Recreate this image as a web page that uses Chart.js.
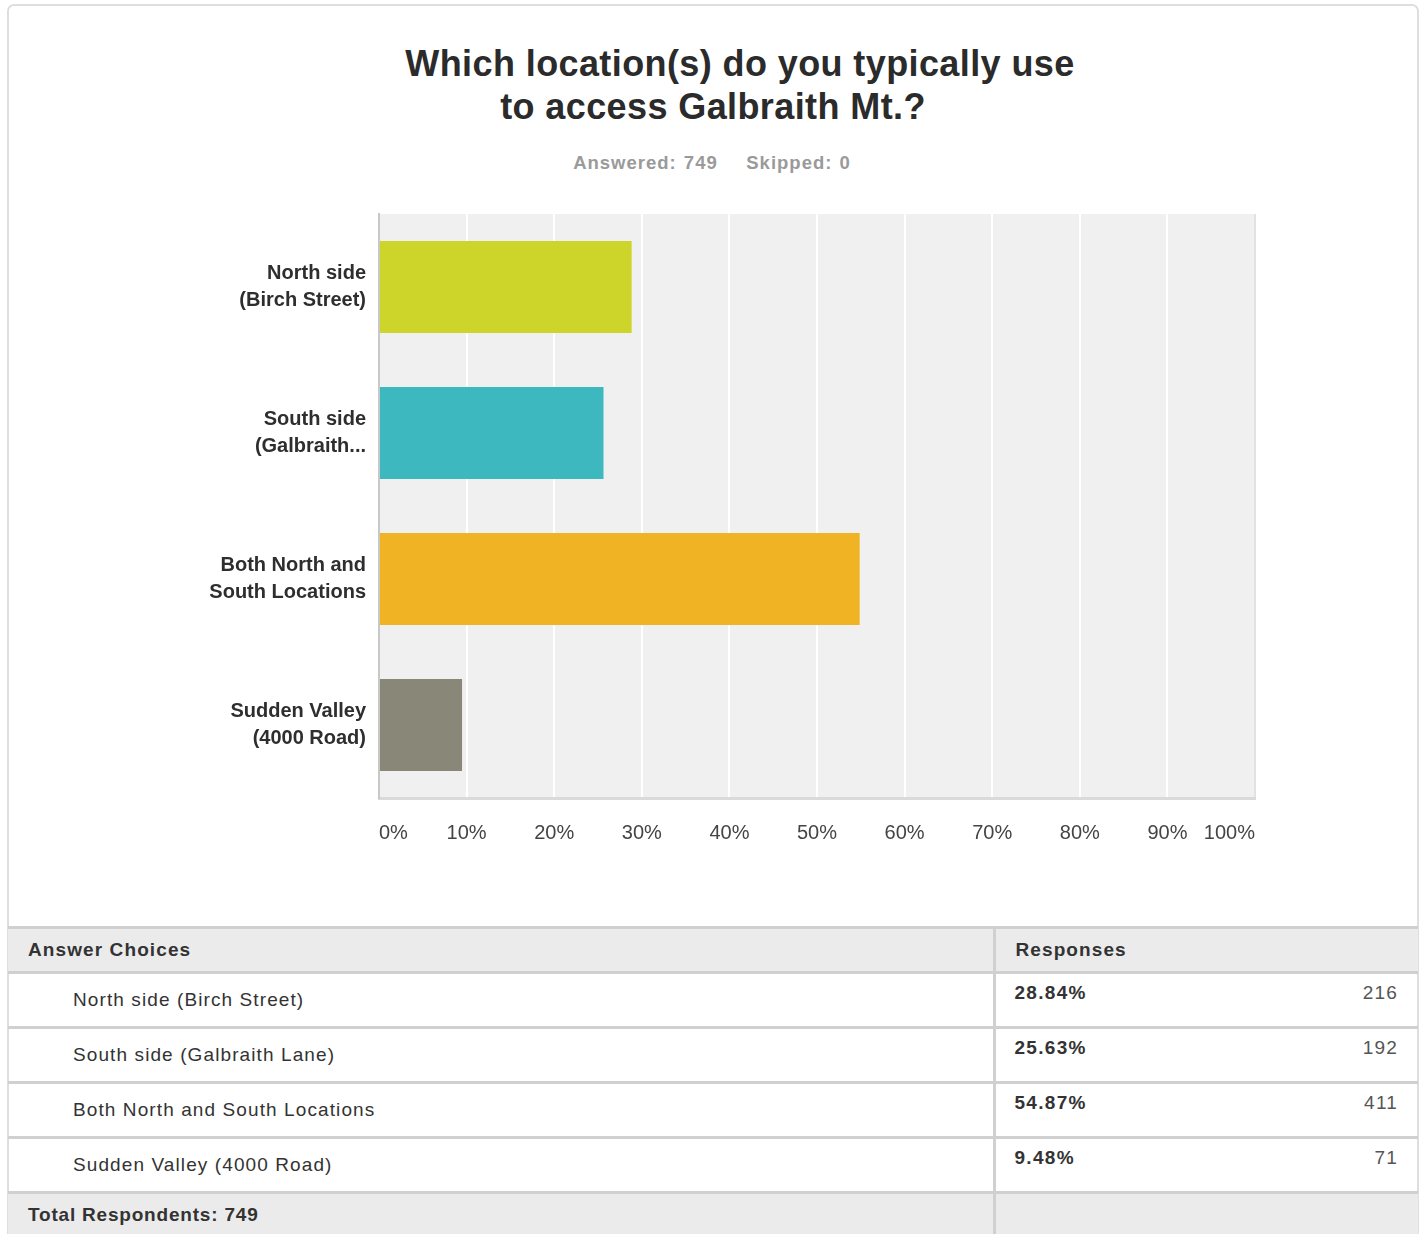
<!DOCTYPE html>
<html>
<head>
<meta charset="utf-8">
<script src="https://cdn.jsdelivr.net/npm/chart.js@4/dist/chart.umd.min.js"></script>
<style>
  html, body { margin:0; padding:0; background:#fff; }
  body { width:1421px; height:1234px; position:relative; overflow:hidden; font-family:"Liberation Sans", Arial, sans-serif; }
  #box { position:absolute; left:7px; top:4px; width:1412px; height:1240px; border:2px solid #dedede; border-radius:7px; box-sizing:border-box; }
  .t { position:absolute; white-space:nowrap; }
  #title1 { left:0; width:1480px; top:43px; text-align:center; font-size:36px; font-weight:bold; color:#2b2b2b; letter-spacing:0.4px; }
  #title2 { left:0; width:1426px; top:86px; text-align:center; font-size:36px; font-weight:bold; color:#2b2b2b; letter-spacing:0.4px; }
  #sub { left:0; width:1424px; top:152px; text-align:center; font-size:18.5px; font-weight:bold; color:#9a9a9a; word-spacing:1px; letter-spacing:1px; }
  #wrap { position:absolute; left:0; top:174px; width:1421px; height:716px; }
  table { position:absolute; left:8px; top:926px; width:1410px; border-collapse:collapse; table-layout:fixed; font-size:19px; color:#333; }
  td { border-top:3px solid #d0d0d0; padding:0; vertical-align:middle; }
  td.c2 { border-left:3px solid #d0d0d0; }
  tr.head td { background:#ebebeb; height:42px; font-weight:bold; letter-spacing:1.1px; }
  tr.row td { height:52px; }
  tr.row td.c2 { vertical-align:top; }
  tr.foot td { background:#ebebeb; height:42px; font-weight:bold; letter-spacing:0.8px; }
  .lbl { padding-left:65px; letter-spacing:1.1px; }
  .hl { padding-left:20px; }
  .pct { font-weight:bold; padding-left:19px; letter-spacing:1.3px; }
  .cnt { text-align:right; padding-right:20px; color:#555; letter-spacing:1.2px; }
  .cell { display:flex; justify-content:space-between; padding-top:8px; }
</style>
</head>
<body>
<div id="box"></div>
<div class="t" id="title1">Which location(s) do you typically use</div>
<div class="t" id="title2">to access Galbraith Mt.?</div>
<div class="t" id="sub">Answered: 749&nbsp;&nbsp;&nbsp;&nbsp;Skipped: 0</div>
<div id="wrap"><canvas id="c" width="1421" height="716"></canvas></div>
<table id="tbl"><colgroup><col style="width:986px"><col style="width:424px"></colgroup><tbody id="tb"></tbody></table>
<script>
const chartLabels = [["North side", "(Birch Street)"], ["South side", "(Galbraith..."], ["Both North and", "South Locations"], ["Sudden Valley", "(4000 Road)"]];
const choiceNames = ["North side (Birch Street)", "South side (Galbraith Lane)", "Both North and South Locations", "Sudden Valley (4000 Road)"];
const percentages = [28.84, 25.63, 54.87, 9.48];
const counts = [216, 192, 411, 71];
const barColors = ["#ced52a", "#3db8bf", "#f0b323", "#898878"];
const tickValues = [0, 10, 20, 30, 40, 50, 60, 70, 80, 90, 100];
const totalRespondents = 749;

// table
let html = '<tr class="head"><td class="hl">Answer Choices</td><td class="c2 hl">Responses</td></tr>';
choiceNames.forEach((n, i) => {
  html += '<tr class="row"><td class="lbl">' + n + '</td><td class="c2"><div class="cell"><span class="pct">' + percentages[i].toFixed(2) + '%</span><span class="cnt">' + counts[i] + '</span></div></td></tr>';
});
html += '<tr class="foot"><td class="hl">Total Respondents: ' + totalRespondents + '</td><td class="c2"></td></tr>';
document.getElementById('tb').innerHTML = html;

const bgPlugin = {
  id: 'bg',
  beforeDraw(chart) {
    const a = chart.chartArea, ctx = chart.ctx;
    ctx.save();
    ctx.fillStyle = '#f0f0f0';
    ctx.fillRect(a.left, a.top, a.right - a.left, a.bottom - a.top);
    ctx.restore();
  }
};

new Chart(document.getElementById('c'), {
  type: 'bar',
  data: {
    labels: chartLabels,
    datasets: [{
      data: percentages,
      backgroundColor: barColors,
      borderWidth: 0,
      categoryPercentage: 1,
      barPercentage: 0.63
    }]
  },
  options: {
    indexAxis: 'y',
    responsive: false,
    animation: false,
    devicePixelRatio: 1,
    layout: { padding: { top: 12, right: 166, left: 0, bottom: 0 } },
    plugins: { legend: { display: false }, tooltip: { enabled: false } },
    scales: {
      x: {
        min: 0, max: 100,
        afterBuildTicks(scale) { scale.ticks = tickValues.map(v => ({ value: v })); },
        afterFit(scale) { scale.height = 92; },
        ticks: {
          align: 'inner',
          padding: 23,
          color: '#444',
          font: { family: '"Liberation Sans", Arial, sans-serif', size: 20 },
          callback: v => v + '%'
        },
        grid: {
          drawTicks: false,
          color: ctx => ctx.index === 0 ? 'rgba(0,0,0,0)' : (ctx.index === tickValues.length - 1 ? '#e2e2e2' : '#ffffff'),
          lineWidth: 2
        },
        border: { color: '#dadada', width: 3 }
      },
      y: {
        afterFit(scale) { scale.width = 379; },
        ticks: {
          padding: 13,
          color: '#2e2e2e',
          font: { family: '"Liberation Sans", Arial, sans-serif', size: 20, weight: 'bold', lineHeight: 1.35 }
        },
        grid: { display: false, drawTicks: false },
        border: { color: '#c8c8c8', width: 2 }
      }
    }
  },
  plugins: [bgPlugin]
});
</script>
</body>
</html>
